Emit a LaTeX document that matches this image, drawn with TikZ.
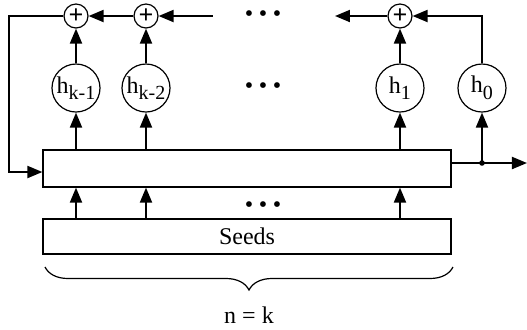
\documentclass[tikz,border=0pt]{standalone}
\usepackage{fontspec}
\setmainfont{Liberation Serif}
\usetikzlibrary{positioning,arrows.meta,calc,decorations.pathreplacing}
\newcommand{\hlab}[1]{h\raisebox{-3.3pt}{\fontsize{10}{10}\selectfont #1}}
\newcommand{\bdots}{\textbullet\hspace{2.8pt}\textbullet\hspace{2.8pt}\textbullet}

\begin{document}
\begin{tikzpicture}[
  x=0.5pt, y=-0.5pt,
  font=\fontsize{12}{14}\selectfont,
  blk/.style={
    rectangle, draw=black, line width=0.6pt,
    minimum width=204pt, minimum height=18.5pt, inner sep=0pt
  },
  tap/.style={
    circle, draw=black, line width=0.6pt,
    minimum size=24pt, inner sep=0pt
  },
  sum/.style={
    circle, draw=black, line width=0.6pt,
    minimum size=12pt, inner sep=0pt, font=\fontsize{13}{13}\selectfont\bfseries
  },
  arr/.style={-{Triangle[length=7.5pt,width=6pt]}, line width=1pt},
  ln/.style={line width=1pt}
]
\useasboundingbox (0,0) rectangle (527,329);

\node[blk] (gen) at (247,168.5) {};
\node[blk, minimum height=17.5pt] (seeds) at (247,236.5) {Seeds};

\node[tap] (hk1)   at (76,88)  {\hlab{k-1}};
\node[tap] (hk2)   at (146,88) {\hlab{k-2}};
\node[tap] (hone)  at (400,88) {\hlab{1}};
\node[tap] (hzero) at (482,88) {\hlab{0}};

\node[sum] (pk1)  at (76,16)  {+};
\node[sum] (pk2)  at (146,16) {+};
\node[sum] (pone) at (400,16) {+};

\node[inner sep=0pt] (dtop) at (263,16)  {\bdots};
\node[inner sep=0pt] (dmid) at (263,88)  {\bdots};
\node[inner sep=0pt] (dbot) at (263,207) {\bdots};

\coordinate (fb)     at (9,16);
\coordinate (topin)  at (213,16);
\coordinate (topout) at (335,16);
\coordinate (tap0)   at (482,163);
\coordinate (out)    at (527,163);

% taps
\draw[arr] (gen.north -| hk1) -- (hk1);
\draw[arr] (gen.north -| hk2) -- (hk2);
\draw[arr] (gen.north -| hone) -- (hone);
\draw[arr] (hk1) -- (pk1);
\draw[arr] (hk2) -- (pk2);
\draw[arr] (hone) -- (pone);

% seeds
\draw[arr] (seeds.north -| hk1) -- (gen.south -| hk1);
\draw[arr] (seeds.north -| hk2) -- (gen.south -| hk2);
\draw[arr] (seeds.north -| hone) -- (gen.south -| hone);

% adder chain
\draw[arr] (topin) -- (pk2);
\draw[arr] (pk2) -- (pk1);
\draw[arr] (pone) -- (topout);
\draw[arr] (hzero.north) |- (pone.east);
\draw[arr] (pk1.west) -- (fb) |- ([yshift=-1.75pt]gen.west);

% output
\draw[ln] (gen.east |- tap0) -- (tap0);
\draw[arr] (tap0) -- (out);
\draw[arr] (tap0) -- (hzero);
\fill (tap0) circle[radius=1.4pt];

\draw[line width=0.6pt, decorate, decoration={brace, mirror, amplitude=11.5pt}]
  (45,267) -- (453,267);
\node (nk) at (249,315) {n = k};

\end{tikzpicture}
\end{document}
